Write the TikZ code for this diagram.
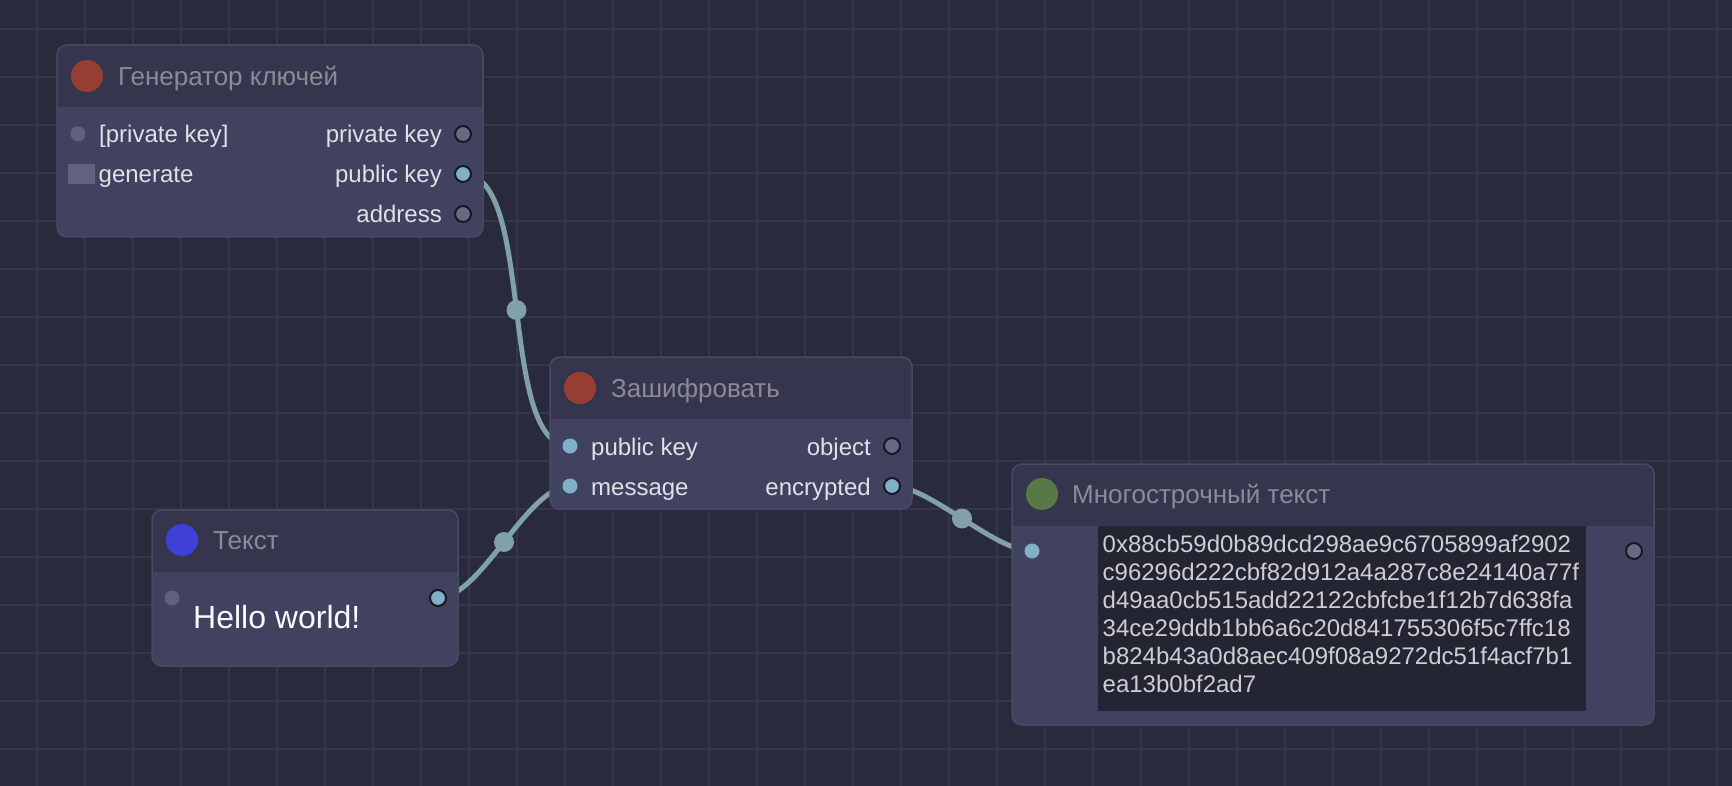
\documentclass[tikz,border=0pt]{standalone}
\usepackage{fontspec}
\setmainfont{Liberation Sans}
\usetikzlibrary{calc, positioning}
\definecolor{bgc}{RGB}{41,43,61}
\definecolor{gridc}{RGB}{52,54,73}
\definecolor{headc}{RGB}{53,54,77}
\definecolor{bodyc}{RGB}{64,66,96}
\definecolor{bordc}{RGB}{72,74,100}
\definecolor{titlec}{RGB}{138,139,150}
\definecolor{labelc}{RGB}{224,224,230}
\definecolor{linkc}{RGB}{130,160,170}
\definecolor{slotblue}{RGB}{128,176,200}
\definecolor{slotgray}{RGB}{104,105,132}
\definecolor{slotdim}{RGB}{96,97,122}
\definecolor{slotline}{RGB}{24,25,32}
\definecolor{redc}{RGB}{150,62,50}
\definecolor{bluec}{RGB}{64,64,216}
\definecolor{greenc}{RGB}{88,120,72}
\definecolor{areac}{RGB}{36,37,51}
\definecolor{hexc}{RGB}{205,205,210}
\definecolor{btnc}{RGB}{96,98,126}
\pgfdeclarelayer{back}
\pgfdeclarelayer{links}
\pgfsetlayers{back,links,main}
\tikzstyle{gnode} = [rectangle, rounded corners=10pt, draw=bordc, line width=1.5pt, fill=headc, anchor=north west, inner sep=0pt, outer sep=0pt, path picture={\fill[bodyc, sharp corners] ([yshift=-62pt]path picture bounding box.north west) rectangle (path picture bounding box.south east);}]
\tikzstyle{headdot} = [circle, inner sep=0pt, outer sep=0pt, minimum size=32pt]
\tikzstyle{ttl} = [inner sep=0pt, text height=19pt, text depth=0pt, text=titlec, font=\fontsize{26}{30}\selectfont]
\tikzstyle{lbl} = [inner sep=0pt, text height=18pt, text depth=0pt, text=labelc, font=\fontsize{24}{28}\selectfont]
\tikzstyle{inslot} = [circle, inner sep=0pt, outer sep=0pt, minimum size=15pt, fill=slotblue]
\tikzstyle{inslotoff} = [inslot, fill=slotdim]
\tikzstyle{outslot} = [circle, inner sep=0pt, outer sep=0pt, minimum size=16pt, draw=slotline, line width=2pt, fill=slotgray]
\tikzstyle{outsloton} = [outslot, fill=slotblue]
\tikzstyle{genbtn} = [rectangle, inner sep=0pt, outer sep=0pt, minimum width=27pt, minimum height=20pt, fill=btnc]
\tikzstyle{hexarea} = [rectangle, inner sep=0pt, outer sep=0pt, fill=areac, anchor=north west]
\tikzstyle{hexline} = [inner sep=0pt, anchor=base west, text=hexc, font=\fontsize{24}{28}\selectfont]
\tikzstyle{hello} = [inner sep=0pt, anchor=base west, text=white!95!gray, font=\fontsize{32}{38}\selectfont]
\tikzstyle{gridline} = [draw=gridc, line width=2pt]
\tikzstyle{link} = [draw=linkc, line width=5pt]
\tikzstyle{linkdot} = [circle, fill=linkc, inner sep=0pt, minimum size=20pt]

\begin{document}
\begin{tikzpicture}[x=1pt, y=-1pt]
\useasboundingbox (0,0) rectangle (1732,786);
\begin{pgfonlayer}{back}
\fill[bgc] (0,0) rectangle (1732,786);
\foreach \gx in {0,...,35} \draw[gridline] (36.7+48*\gx,0) -- (36.7+48*\gx,786);
\foreach \gy in {0,...,15} \draw[gridline] (0,29.3+48*\gy) -- (1732,29.3+48*\gy);
\end{pgfonlayer}

\node[gnode, minimum width=426pt, minimum height=192pt] (gen) at (57,45) {};
\node[headdot, fill=redc] (gen-dot) at ($(gen.north west)+(30,31)$) {};
\node[ttl, right=15pt of gen-dot] (gen-title) {Генератор ключей};
\node[inslotoff] (gen-in1) at ($(gen.north west)+(21,89)$) {};
\node[lbl, right=13.5pt of gen-in1] (gen-l1) {[private key]};
\node[genbtn] (gen-in2) at ($(gen.north west)+(24,129)$) {};
\node[lbl, right=4pt of gen-in2] (gen-l2) {generate};
\node[outslot] (gen-out1) at ($(gen.north east)+(-20,89)$) {};
\node[lbl, left=13pt of gen-out1] (gen-r1) {private key};
\node[outsloton] (gen-out2) at ($(gen.north east)+(-20,129)$) {};
\node[lbl, left=13pt of gen-out2] (gen-r2) {public key};
\node[outslot] (gen-out3) at ($(gen.north east)+(-20,169)$) {};
\node[lbl, left=13pt of gen-out3] (gen-r3) {address};

\node[gnode, minimum width=362pt, minimum height=152pt] (enc) at (550,357) {};
\node[headdot, fill=redc] (enc-dot) at ($(enc.north west)+(30,31)$) {};
\node[ttl, right=15pt of enc-dot] (enc-title) {Зашифровать};
\node[inslot] (enc-in1) at ($(enc.north west)+(20,89)$) {};
\node[lbl, right=13.5pt of enc-in1] (enc-l1) {public key};
\node[inslot] (enc-in2) at ($(enc.north west)+(20,129)$) {};
\node[lbl, right=13.5pt of enc-in2] (enc-l2) {message};
\node[outslot] (enc-out1) at ($(enc.north east)+(-20,89)$) {};
\node[lbl, left=13pt of enc-out1] (enc-r1) {object};
\node[outsloton] (enc-out2) at ($(enc.north east)+(-20,129)$) {};
\node[lbl, left=13pt of enc-out2] (enc-r2) {encrypted};

\node[gnode, minimum width=306pt, minimum height=156pt] (txt) at (152,510) {};
\node[headdot, fill=bluec] (txt-dot) at ($(txt.north west)+(30,30)$) {};
\node[ttl, right=15pt of txt-dot] (txt-title) {Текст};
\node[inslotoff] (txt-in1) at ($(txt.north west)+(20,88)$) {};
\node[outsloton] (txt-out1) at ($(txt.north east)+(-20,88)$) {};
\node[hello] (txt-val) at ($(txt.north west)+(41,118)$) {Hello world!};

\node[gnode, minimum width=642pt, minimum height=261pt] (multi) at (1012,464) {};
\node[headdot, fill=greenc] (multi-dot) at ($(multi.north west)+(30,30)$) {};
\node[ttl, right=14pt of multi-dot] (multi-title) {Многострочный текст};
\node[inslot] (multi-in1) at ($(multi.north west)+(20,87)$) {};
\node[outslot] (multi-out1) at ($(multi.north east)+(-20,87)$) {};
\node[hexarea, minimum width=488pt, minimum height=185pt] (area) at ($(multi.north west)+(86,62)$) {};
\foreach \hl [count=\i from 0] in {0x88cb59d0b89dcd298ae9c6705899af2902, c96296d222cbf82d912a4a287c8e24140a77f, d49aa0cb515add22122cbfcbe1f12b7d638fa, 34ce29ddb1bb6a6c20d841755306f5c7ffc18, b824b43a0d8aec409f08a9272dc51f4acf7b1, ea13b0bf2ad7}
  \node[hexline] (hex\i) at ($(area.north west)+(4.5,26+28*\i)$) {\hl};

\begin{pgfonlayer}{links}
\path[link] (gen-out2.center) .. controls +(73,0) and +(-73,0) .. node[linkdot, pos=0.5] (mid1) {} (enc-in1.center);
\path[link] (txt-out1.center) .. controls +(43,0) and +(-43,0) .. node[linkdot, pos=0.5] (mid2) {} (enc-in2.center);
\path[link] (enc-out2.center) .. controls +(38,0) and +(-38,0) .. node[linkdot, pos=0.5] (mid3) {} (multi-in1.center);
\end{pgfonlayer}
\end{tikzpicture}
\end{document}
